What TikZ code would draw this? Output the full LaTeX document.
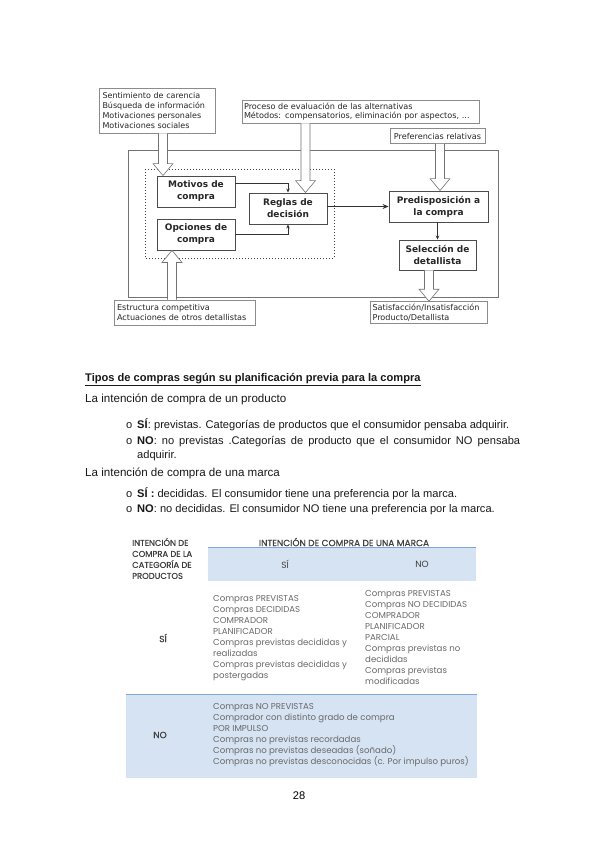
\documentclass[tikz,border=0pt]{standalone}
\usepackage{fontspec}
\setmainfont{Liberation Sans}
\newfontfamily\dv{DejaVu Sans}
\newfontfamily\pop{Poppins}
\newfontfamily\poph{Poppins}[FakeBold=0.6]
\usetikzlibrary{calc,arrows.meta}
\definecolor{tblue}{RGB}{214,227,243}
\definecolor{tline}{RGB}{125,167,217}
\definecolor{tgray}{RGB}{105,105,105}
\definecolor{thead}{RGB}{64,64,64}
\begin{document}
\begin{tikzpicture}[x=1pt,y=-1pt,
  annot/.style={draw=black!45, fill=white, line width=0.6pt, align=left, inner ysep=0pt, text=black!85,
    font=\dv\fontsize{8.1}{9.5}\selectfont, execute at begin node={\hyphenpenalty=10000 }},
  procbox/.style={draw=black!70, fill=white, line width=0.9pt, align=center, inner sep=0pt,
    font=\dv\bfseries\fontsize{9}{12}\selectfont, text=black!85},
  conn/.style={draw=black!80, line width=0.8pt, -{Stealth[length=4pt,width=3.5pt]}},
  hollowdown/.style={draw=black!55, fill=white, line width=0.6pt,
    to path={let \p1=(\tikztostart), \p2=(\tikztotarget) in
      (\x1-4.5pt,\y1) -- (\x1-4.5pt,\y2+12pt) -- (\x1-10pt,\y2+12pt) -- (\x1,\y2)
      -- (\x1+10pt,\y2+12pt) -- (\x1+4.5pt,\y2+12pt) -- (\x1+4.5pt,\y1)}},
  hollowup/.style={draw=black!55, fill=white, line width=0.6pt,
    to path={let \p1=(\tikztostart), \p2=(\tikztotarget) in
      (\x1-4.5pt,\y1) -- (\x1-4.5pt,\y2-12pt) -- (\x1-10pt,\y2-12pt) -- (\x1,\y2)
      -- (\x1+10pt,\y2-12pt) -- (\x1+4.5pt,\y2-12pt) -- (\x1+4.5pt,\y1)}},
  body/.style={anchor=base west, inner sep=0pt, font=\fontsize{11.1}{13.5}\selectfont, text=black!90},
  tbody/.style={inner sep=0pt, align=left, font=\pop\fontsize{8.6}{11}\selectfont, text=tgray},
  thd/.style={inner sep=0pt, align=left, font=\poph\fontsize{9}{11}\selectfont, text=thead}
]
\useasboundingbox[fill=white] (0,0) rectangle (599,848);

% ---------- diagram frames ----------
\draw[black!55, line width=0.8pt] (128,150) rectangle (498,297);
\draw[black!75, line width=1pt, dotted] (145,169) rectangle (334,258);

% ---------- annotation boxes ----------
\node[annot, font=\dv\fontsize{8}{10}\selectfont, minimum width=116, minimum height=45,
  text width=110, inner xsep=3] (sent) at (157.5,110.5)
  {Sentimiento de carencia\\Búsqueda de información\\Motivaciones personales\\Motivaciones sociales};
\node[annot, minimum width=237, minimum height=23,
  text width=233, inner xsep=2] (proc) at (360.5,111.5)
  {Proceso de evaluación de las alternativas\\Métodos: compensatorios, eliminación por aspectos, ...};
\node[annot, minimum width=95, minimum height=15,
  inner xsep=0, align=center] (pref) at (437.5,136) {Preferencias relativas};
\node[annot, minimum width=141, minimum height=25,
  text width=135, inner xsep=3] (estr) at (184.5,312.5)
  {Estructura competitiva\\Actuaciones de otros detallistas};
\node[annot, minimum width=117, minimum height=22,
  text width=113, inner xsep=2] (satis) at (429,312.5)
  {Satisfacción/Insatisfacción\\Producto/Detallista};

% ---------- process boxes ----------
\node[procbox, minimum width=78, minimum height=31] (motivos) at (196,191.5) {Motivos de\\compra};
\node[procbox, minimum width=78, minimum height=31] (opciones) at (196,234.5) {Opciones de\\compra};
\node[procbox, minimum width=78, minimum height=31] (reglas) at (288,208.5) {Reglas de\\decisión};
\node[procbox, minimum width=99, minimum height=31] (predis) at (438.5,206.5) {Predisposición a\\la compra};
\node[procbox, minimum width=77, minimum height=30] (sel) at (437.5,255) {Selección de\\detallista};

% ---------- hollow arrows ----------
\coordinate (xa) at (163,0);
\coordinate (xb) at (305.5,0);
\coordinate (xc) at (440,0);
\coordinate (xd) at (429,0);
\coordinate (xe) at (172,0);
\draw[hollowdown] (sent.south -| xa) to (motivos.north -| xa);
\draw[hollowdown] (proc.south -| xb) to (reglas.north -| xb);
\draw[hollowdown] (pref.south -| xc) to (predis.north -| xc);
\draw[hollowdown] (sel.south -| xd) to (satis.north -| xd);
\draw[hollowup] (estr.north -| xe) to (opciones.south -| xe);

% ---------- thin connectors ----------
\draw[conn] ([yshift=8.5pt]motivos.east) -| (reglas.north);
\draw[conn] (opciones.east) -| (reglas.south);
\draw[conn, line width=1.6pt, -{Stealth[length=6pt,width=5pt]}] (predis.west -| reglas.east) -- (predis.west);
\draw[conn] (predis.south -| sel.north) -- (sel.north);

% ---------- text section ----------
\node[body, font=\bfseries\fontsize{11.1}{13.5}\selectfont] (title) at (85,381)
  {\underline{Tipos de compras según su planificación previa para la compra}};
\node[body, font=\fontsize{11.6}{14}\selectfont] (p1) at (85,402) {La intención de compra de un producto};
\node[body] (b1) at (126,428) {o};
\node[body] (l1) at (137,428) {\textbf{SÍ}: previstas. Categorías de productos que el consumidor pensaba adquirir.};
\node[body] (b2) at (126,444) {o};
\node[body] (l2) at (137,444) {\makebox[383pt][s]{\textbf{NO}: no previstas .Categorías de producto que el consumidor NO pensaba}};
\node[body] (l3) at (137,458) {adquirir.};
\node[body, font=\fontsize{11.6}{14}\selectfont] (p2) at (85,476) {La intención de compra de una marca};
\node[body] (b3) at (126,497) {o};
\node[body] (l4) at (137,497) {\textbf{SÍ :} decididas. El consumidor tiene una preferencia por la marca.};
\node[body] (b4) at (126,512) {o};
\node[body] (l5) at (137,512) {\textbf{NO}: no decididas. El consumidor NO tiene una preferencia por la marca.};

% ---------- table ----------
\fill[tblue] (208,548) rectangle (476,581);
\draw[tline, line width=1pt] (208,547.5) -- (476,547.5);
\fill[tblue] (126,694) rectangle (477,778);
\draw[tline, line width=1pt] (126,694) -- (477,694);

\node[thd, anchor=west, font=\poph\fontsize{8.4}{11}\selectfont] (hcat) at (132,558.5) {INTENCIÓN DE\\COMPRA DE LA\\CATEGORÍA DE\\PRODUCTOS};
\node[thd] (hmarca) at (344,542) {INTENCIÓN DE COMPRA DE UNA MARCA};
\node[thd, font=\pop\fontsize{9}{11}\selectfont] (hsi) at (285,564) {SÍ};
\node[thd, font=\pop\fontsize{9}{11}\selectfont] (hno) at (422,564) {NO};

\node[thd] (rsi) at (163,638) {SÍ};
\node[tbody, anchor=west] (c1) at (213,638)
  {Compras PREVISTAS\\Compras DECIDIDAS\\COMPRADOR\\PLANIFICADOR\\Compras previstas decididas y\\realizadas\\Compras previstas decididas y\\postergadas};
\node[tbody, anchor=west] (c2) at (365,637)
  {Compras PREVISTAS\\Compras NO DECIDIDAS\\COMPRADOR\\PLANIFICADOR\\PARCIAL\\Compras previstas no\\decididas\\Compras previstas\\modificadas};

\node[thd] (rno) at (160,735) {NO};
\node[tbody, anchor=west] (c3) at (213,735)
  {Compras NO PREVISTAS\\Comprador con distinto grado de compra\\POR IMPULSO\\Compras no previstas recordadas\\Compras no previstas deseadas (soñado)\\Compras no previstas desconocidas (c. Por impulso puros)};

\node[inner sep=0pt, font=\fontsize{11.1}{13}\selectfont] (page) at (299,796) {28};
\end{tikzpicture}
\end{document}
